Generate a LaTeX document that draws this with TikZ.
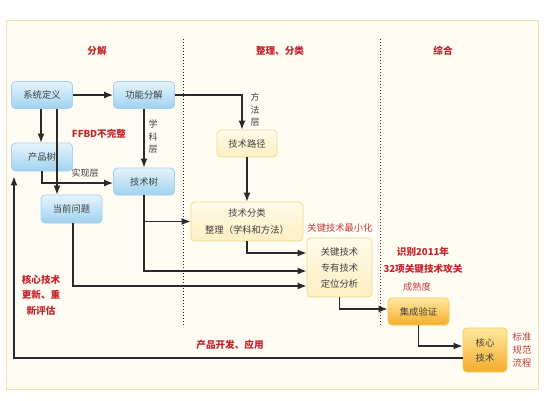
\documentclass[tikz,border=0pt]{standalone}
\usepackage{fontspec}
\setmainfont{Noto Sans CJK SC}
\usetikzlibrary{arrows.meta}
\definecolor{framebd}{HTML}{F1E3B0}
\definecolor{framebg}{HTML}{FFFCF3}
\definecolor{bluetop}{HTML}{E6F4FC}
\definecolor{bluebot}{HTML}{9FD2F0}
\definecolor{bluebd}{HTML}{A6D1EE}
\definecolor{yeltop}{HTML}{FFFBEA}
\definecolor{yelbot}{HTML}{FDEFC2}
\definecolor{yelbd}{HTML}{EED98A}
\definecolor{ortop}{HTML}{FFE9A0}
\definecolor{orbot}{HTML}{F5AC2A}
\definecolor{orbd}{HTML}{F2C95A}
\definecolor{txt}{HTML}{3E3E3E}
\definecolor{redlab}{HTML}{C4242B}
\definecolor{redlt}{HTML}{C43A3A}
\definecolor{linec}{HTML}{2A2A2A}
\begin{document}
\begin{tikzpicture}[x=1pt,y=-1pt,
  base/.style={rounded corners=4pt, text=txt, inner sep=0pt, align=center,
    font=\fontsize{9.3}{11}\selectfont},
  bluebox/.style={base, draw=bluebd, line width=0.8pt, top color=bluetop, bottom color=bluebot,
    minimum width=61pt, minimum height=27pt},
  yelbox/.style={base, draw=yelbd, line width=0.8pt, top color=yeltop, bottom color=yelbot},
  orbox/.style={base, draw=orbd, line width=0.8pt, top color=ortop, bottom color=orbot},
  arr/.style={draw=linec, line width=1.4pt, -{Latex[length=9pt,width=7pt]}},
  redb/.style={text=redlab, font=\fontsize{9.6}{15}\selectfont\bfseries, align=center, inner sep=0pt},
  redl/.style={text=redlt, font=\fontsize{9.3}{13}\selectfont, align=center, inner sep=0pt},
  layer/.style={text=txt, font=\fontsize{9}{12.5}\selectfont, align=center, inner sep=0pt},
  sep/.style={draw=linec, line width=1pt, dotted}
]
\useasboundingbox (0,0) rectangle (550,400);
\fill[white] (0,0) rectangle (550,400);
\draw[draw=framebd, fill=framebg, line width=1pt] (6,20) rectangle (538,389);

% separators
\coordinate (s1a) at (183,39); \coordinate (s1b) at (183,327);
\coordinate (s2a) at (380,39); \coordinate (s2b) at (380,327);
\draw[sep] (s1a) -- (s1b);
\draw[sep] (s2a) -- (s2b);

% headers
\node[redb] (h1) at (97,51) {分解};
\node[redb] (h2) at (280,51) {整理、分类};
\node[redb] (h3) at (443,51) {综合};

% blue nodes
\node[bluebox] (sys) at (42,95) {系统定义};
\node[bluebox] (func) at (144,95) {功能分解};
\node[bluebox, minimum height=28pt] (prod) at (42,157) {产品树};
\node[bluebox] (tree) at (144,181.5) {技术树};
\node[bluebox, minimum height=28pt] (cur) at (71.5,209) {当前问题};

% yellow nodes
\node[yelbox, minimum width=60pt, minimum height=27pt] (path) at (247,143.5) {技术路径};
\node[yelbox, minimum width=112pt, minimum height=39pt, font=\fontsize{9.3}{17}\selectfont] (cls) at (247,221.5) {技术分类\\整理（学科和方法）};
\node[yelbox, minimum width=65pt, minimum height=59pt, font=\fontsize{9.3}{16}\selectfont] (key) at (339.5,267.5) {关键技术\\专有技术\\定位分析};

% orange nodes
\node[orbox, minimum width=61pt, minimum height=27pt] (integ) at (418.5,311.5) {集成验证};
\node[orbox, minimum width=44pt, minimum height=44pt, font=\fontsize{9.3}{15}\selectfont] (core) at (485,350) {核心\\技术};

% connectors
\draw[arr] (sys.east) -- (func.west);
\draw[arr] (func.east) -| ([xshift=-5pt]path.north);
\draw[arr] (path.south) -- (cls.north);
\draw[arr] ([xshift=-1pt]sys.south) -- ([xshift=-1pt]prod.north);
\draw[arr] ([xshift=15pt]sys.south) -- ([xshift=15pt]sys.south |- cur.north);
\draw[arr] (prod.south) |- ([yshift=-1.5pt]tree.west);
\draw[arr] (func.south) -- (tree.north);
\draw[arr] (tree.south) |- (cls.west);
\draw[arr] (tree.south) |- ([yshift=-3.5pt]key.west);
\draw[arr] (cls.south) |- ([yshift=14.5pt]key.west);
\draw[arr] ([xshift=1.5pt]cur.south) |- ([yshift=-18.5pt]key.west);
\draw[arr] (key.south) |- ([yshift=2.5pt]integ.west);
\draw[arr] (integ.south) |- ([yshift=4pt]core.west);
\draw[arr] ([yshift=-8pt]core.west) -| ([xshift=-28pt,yshift=-5pt]prod.south);

% layer labels
\node[layer] (l1) at (255,110) {方\\法\\层};
\node[layer] (l2) at (153,137) {学\\科\\层};
\node[layer] (l3) at (85,173) {实现层};

% red labels
\node[redb] (ffbd) at (99,134) {FFBD不完整};
\node[redb, font=\fontsize{9.6}{15.5}\selectfont\bfseries] (upd) at (41,295) {核心技术\\更新、重\\新评估};
\node[redb] (dev) at (230,345) {产品开发、应用};
\node[redl] (min) at (340,228) {关键技术最小化};
\node[redb, font=\fontsize{9.6}{17}\selectfont\bfseries] (id) at (423,260.5) {识别2011年\\32项关键技术攻关};
\node[redl] (mat) at (417,287) {成熟度};
\node[redl] (std) at (522,350) {标准\\规范\\流程};
\end{tikzpicture}
\end{document}
